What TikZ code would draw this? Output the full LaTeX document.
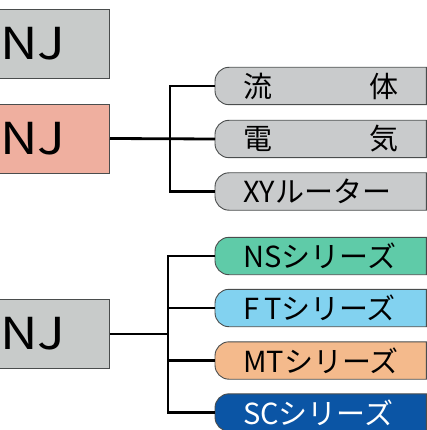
\documentclass[tikz,border=0pt]{standalone}
\usepackage{fontspec}
\setmainfont{Noto Sans CJK JP}
\usetikzlibrary{backgrounds}
\definecolor{boxgray}{HTML}{C8CBCA}
\definecolor{boxpink}{HTML}{EFAF9F}
\definecolor{pillgray}{HTML}{C9CBCC}
\definecolor{pillgreen}{HTML}{5FCBA8}
\definecolor{pillblue}{HTML}{82D2F0}
\definecolor{pillorange}{HTML}{F4BA8C}
\definecolor{pilldark}{HTML}{0B55A5}
\definecolor{edge}{HTML}{4A4D4D}
\tikzset{
  x=1pt, y=-1pt,
  bigbox/.style={draw=edge, line width=0.9pt, rectangle, inner sep=0pt,
    minimum width=115pt, minimum height=69pt, anchor=east,
    font=\fontsize{44}{44}\selectfont\addfontfeature{FakeStretch=1.18}},
  pill/.style={rectangle, inner xsep=28pt, inner ysep=0pt, minimum height=37pt,
    anchor=west, font=\fontsize{29}{29}\selectfont},
  link/.style={line width=2.8pt, black},
  pillshape/.style={draw=edge, line width=0.9pt, rounded corners=14pt}
}
\newcommand{\pilltxt}[1]{\makebox[155pt][l]{#1}}
\newcommand{\boxtxt}{\makebox[115pt][l]{\hspace{5.5pt}NJ}}
\begin{document}
\begin{tikzpicture}
\useasboundingbox (0,0) rectangle (427,430);
\clip (0,0) rectangle (427,430);

% left boxes
\node[bigbox, fill=boxgray] (b1) at (110,43.5) {\boxtxt};
\node[bigbox, fill=boxpink] (b2) at (110,138.5) {\boxtxt};
\node[bigbox, fill=boxgray] (b3) at (110,334) {\boxtxt};

% pills top
\node[pill] (p1) at (215,86) {\pilltxt{流\hfill 体}};
\node[pill] (p2) at (215,139) {\pilltxt{電\hfill 気}};
\node[pill] (p3) at (215,191.5) {\pilltxt{XYルーター}};
% pills bottom
\node[pill] (q1) at (215,256) {\pilltxt{NSシリーズ}};
\node[pill] (q2) at (215,308) {\pilltxt{F\,Tシリーズ}};
\node[pill] (q3) at (215,360.5) {\pilltxt{MTシリーズ}};
\node[pill, text=white] (q4) at (215,412.5) {\pilltxt{SCシリーズ}};

\begin{scope}[on background layer]
  \foreach \n/\c in {p1/pillgray,p2/pillgray,p3/pillgray,q1/pillgreen,q2/pillblue,q3/pillorange,q4/pilldark}{
    \draw[pillshape, fill=\c] (\n.north east) -- (\n.north west) -- (\n.south west) [sharp corners] -- (\n.south east) -- cycle;
  }
\end{scope}

% connectors top
\coordinate (t1) at (170,0);
\draw[link] (b2.east) -- (p2.west);
\draw[link] (p1.west) -| (t1 |- p3.west) -- (p3.west);
% connectors bottom
\coordinate (t2) at (168,0);
\draw[link] (b3.east) -- (t2 |- b3.east);
\draw[link] (q1.west) -| (t2 |- q4.west) -- (q4.west);
\draw[link] (t2 |- q2.west) -- (q2.west);
\draw[link] (t2 |- q3.west) -- (q3.west);
\end{tikzpicture}
\end{document}
